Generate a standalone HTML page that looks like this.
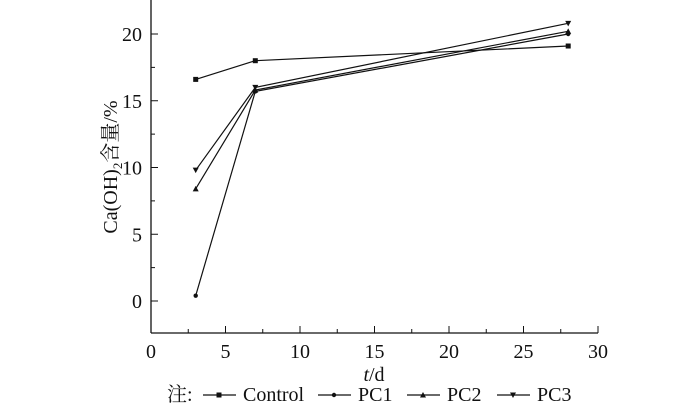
<!DOCTYPE html>
<html><head><meta charset="utf-8"><style>
html,body{margin:0;padding:0;background:#fff;}
svg text{font-family:"Liberation Serif","Noto Serif CJK SC",serif;fill:#111;}
</style></head><body>
<svg id="c" width="700" height="405" viewBox="0 0 700 405"></svg>
<script>
const days=[3,7,28];
const seriesNames=["Control","PC1","PC2","PC3"];
const controlVals=[16.6,18.0,19.1];
const pc1Vals=[0.4,15.7,20.0];
const pc2Vals=[8.4,15.8,20.2];
const pc3Vals=[9.8,16.0,20.8];
const xTicks=[0,5,10,15,20,25,30];
const yTicks=[0,5,10,15,20];
const NS="http://www.w3.org/2000/svg";
const svg=document.getElementById('c');
const X=v=>151+v*(598-151)/30;
const Y=v=>301-v*(301-34)/20;
function el(t,a,p){const e=document.createElementNS(NS,t);for(const k in a)e.setAttribute(k,a[k]);(p||svg).appendChild(e);return e;}
const axes=el('g',{});


el('line',{x1:151,y1:0,x2:151,y2:333,stroke:'#111','stroke-width':1.3},axes);
el('line',{x1:151,y1:333,x2:598,y2:333,stroke:'#111','stroke-width':1.3},axes);
for(let i=0;i<=12;i++){const v=i*2.5;const x=X(v);
 el('line',{x1:x,y1:333,x2:x,y2:i%2?329:326,stroke:'#111','stroke-width':1},axes);}
xTicks.forEach(v=>{const t=el('text',{x:X(v),y:358,'text-anchor':'middle','font-size':20},axes);t.textContent=v;
 });
for(let v=-2.5;v<=22.5;v+=2.5){const y=Y(v);if(y<2||y>333)continue;
 el('line',{x1:151,y1:y,x2:(Math.round(v/2.5)%2)?155:158,y2:y,stroke:'#111','stroke-width':1},axes);}
yTicks.forEach(v=>{const t=el('text',{x:142,y:Y(v)+7,'text-anchor':'end','font-size':20},axes);t.textContent=v;
 });
const xt=el('text',{x:374,y:381,'text-anchor':'middle','font-size':20});
xt.innerHTML='<tspan font-style="italic">t</tspan>/d';

const yt=el('text',{x:0,y:0,'text-anchor':'middle','font-size':20,transform:'translate(117,167) rotate(-90)'});
yt.innerHTML='Ca(OH)<tspan font-size="13" dy="5">2</tspan><tspan dy="-5">含量/%</tspan>';

function marker(g,kind,x,y){
 if(kind==0)el('rect',{x:x-2.5,y:y-2.5,width:5,height:5,fill:'#111'},g);
 else if(kind==1)el('circle',{cx:x,cy:y,r:2.2,fill:'#111'},g);
 else if(kind==2)el('polygon',{points:`${x-3},${y+2.5} ${x+3},${y+2.5} ${x},${y-3}`,fill:'#111'},g);
 else el('polygon',{points:`${x-3},${y-2.5} ${x+3},${y-2.5} ${x},${y+3}`,fill:'#111'},g);}
[controlVals,pc1Vals,pc2Vals,pc3Vals].forEach((vals,k)=>{
 const g=el('g',{});
 
 
 el('polyline',{points:vals.map((v,i)=>X(days[i])+','+Y(v)).join(' '),fill:'none',stroke:'#111','stroke-width':1.2},g);
 vals.forEach((v,i)=>marker(g,k,X(days[i]),Y(v)));});
const lg=el('g',{});

const lt=el('text',{x:167,y:401,'font-size':20},lg);lt.textContent='注:';
const lx=[203,318,407,497];
seriesNames.forEach((n,k)=>{
 const e=el('g',{},lg);
 
 el('line',{x1:lx[k],y1:395,x2:lx[k]+33,y2:395,stroke:'#111','stroke-width':1.2},e);
 marker(e,k,lx[k]+16,395);
 const t=el('text',{x:lx[k]+40,y:401,'font-size':20},e);t.textContent=n;});
</script>
</body></html>
